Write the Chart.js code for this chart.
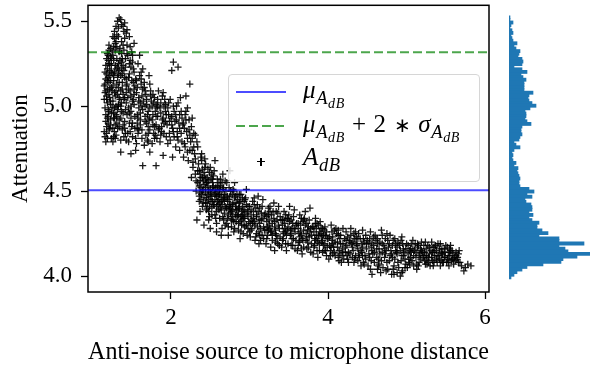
<!DOCTYPE html>
<html>
<head>
<meta charset="utf-8">
<script src="https://cdn.jsdelivr.net/npm/chart.js@4.4.1/dist/chart.umd.min.js"></script>
<style>
  body { margin: 0; background: #fff; }
  #wrap { position: relative; width: 590px; height: 367px; overflow: hidden; }
  #mainChart { position: absolute; left: 0; top: 0; }
  #histChart { position: absolute; left: 490px; top: 0; }
  .legend {
    position: absolute; left: 228px; top: 74px; width: 250px; height: 106px;
    border: 1px solid #d6d6d6; border-radius: 4px; background: rgba(255,255,255,0.85);
    font-family: 'Liberation Serif', serif; font-size: 25px; color: #000; letter-spacing: 0.6px;
  }
  .legend .txt { position: absolute; left: 74px; line-height: 26px; white-space: nowrap; font-style: italic; }
  .legend .txt .n { font-style: normal; }
  .legend .op { padding: 0 7px; }
  .legend .ast { font-size: 80%; padding: 0 7px; }
  .legend sub { font-size: 74%; vertical-align: -0.3em; line-height: 0; }
  .legend sub sub { font-size: 76%; vertical-align: -0.25em; }
  .legend .sw { position: absolute; left: 7px; width: 50px; height: 2px; }
  .legend .plus-h, .legend .plus-v { position: absolute; background: #000; }
</style>
</head>
<body>
<div id="wrap">
  <canvas id="mainChart" width="500" height="367"></canvas>
  <canvas id="histChart" width="100" height="367"></canvas>
  <div class="legend">
    <div class="sw" style="top:16px;background:rgba(0,0,255,0.7)"></div>
    <div class="txt" style="top:2px">μ<sub>A<sub>dB</sub></sub></div>
    <div class="sw" style="top:50px;background:repeating-linear-gradient(to right, rgba(0,128,0,0.7) 0 9px, transparent 9px 13px)"></div>
    <div class="txt" style="top:36px">μ<sub>A<sub>dB</sub></sub><span class="n op">+</span><span class="n">2</span><span class="n ast">∗</span>σ<sub>A<sub>dB</sub></sub></div>
    <div class="plus-h" style="left:28px;top:86px;width:8px;height:1.4px"></div>
    <div class="plus-v" style="left:31.3px;top:83px;width:1.4px;height:8px"></div>
    <div class="txt" style="top:69px">A<sub>dB</sub></div>
  </div>
</div>
<script>
// axis ticks
const xTicks = [2, 4, 6];
const yTicks = [4.0, 4.5, 5.0, 5.5];

// reference lines
const meanAtt = 4.505;
const upperAtt = 5.317;

const nearCluster = [
  [1.16,4.82],[1.18,4.88],[1.17,4.95],[1.19,5.02],[1.16,5.08],[1.21,5.14],[1.18,5.19],[1.22,5.25],[1.20,5.30],[1.23,5.34],
  [1.24,4.81],[1.21,4.86],[1.23,4.92],[1.20,4.98],[1.22,5.05],[1.24,5.11],[1.17,5.16],[1.19,5.22],[1.24,5.28],[1.21,5.33],
  [1.18,4.84],[1.20,4.90],[1.16,4.99],[1.23,5.01],[1.19,5.10],[1.15,5.12],[1.22,5.18],[1.17,5.24],[1.20,5.27],[1.24,5.20],
  [1.22,4.87],[1.17,4.91],[1.24,4.96],[1.18,5.04],[1.21,5.07],[1.23,5.15],[1.16,5.20],[1.19,5.31],[1.22,5.10],[1.20,4.94],
  [1.26,4.79],[1.28,4.85],[1.31,4.90],[1.27,4.96],[1.33,5.01],[1.29,5.06],[1.26,5.12],[1.32,5.17],[1.30,5.22],[1.27,5.27],
  [1.34,5.32],[1.29,5.37],[1.31,5.42],[1.33,5.46],[1.28,5.40],[1.30,4.83],[1.34,4.88],[1.27,4.93],[1.32,4.98],[1.26,5.03],
  [1.30,5.09],[1.34,5.14],[1.28,5.20],[1.33,5.25],[1.26,5.30],[1.31,5.35],[1.29,4.81],[1.32,4.87],[1.28,4.99],[1.34,5.05],
  [1.27,5.15],[1.31,5.28],[1.29,5.33],[1.33,5.11],[1.30,4.95],[1.26,5.19],[1.34,4.92],[1.28,5.08],[1.32,5.23],[1.30,5.38],
  [1.36,4.80],[1.38,4.86],[1.41,4.91],[1.37,4.97],[1.43,5.02],[1.39,5.07],[1.44,5.13],[1.36,5.18],[1.42,5.23],[1.38,5.28],
  [1.40,5.33],[1.37,5.38],[1.43,5.43],[1.39,5.47],[1.36,5.51],[1.41,5.49],[1.44,5.45],[1.35,5.34],[1.42,4.84],[1.39,4.89],
  [1.44,4.95],[1.36,5.00],[1.41,5.05],[1.38,5.10],[1.43,5.16],[1.40,5.21],[1.37,5.26],[1.44,5.31],[1.39,5.36],[1.41,5.40],
  [1.36,4.93],[1.43,5.08],[1.38,5.14],[1.40,4.82],[1.42,4.98],[1.37,5.22],
  [1.46,4.79],[1.48,4.85],[1.51,4.90],[1.47,4.96],[1.53,5.01],[1.49,5.06],[1.54,5.12],[1.46,5.17],[1.52,5.22],[1.48,5.27],
  [1.50,5.32],[1.53,5.37],[1.47,5.41],[1.51,4.82],[1.54,4.87],[1.49,4.93],[1.46,4.99],[1.52,5.04],[1.48,5.09],[1.50,5.15],
  [1.53,5.20],[1.47,5.25],[1.51,5.30],[1.49,5.00],[1.54,4.94],[1.46,5.10],[1.50,4.88],[1.52,5.14],[1.48,5.35],[1.53,5.07],
  [1.56,4.78],[1.58,4.84],[1.61,4.89],[1.57,4.95],[1.63,5.00],[1.59,5.05],[1.64,5.10],[1.56,5.15],[1.62,5.20],[1.58,5.25],
  [1.60,5.30],[1.63,4.81],[1.57,4.87],[1.61,4.92],[1.64,4.98],[1.59,5.03],[1.56,5.08],[1.62,5.13],[1.60,5.18],[1.58,4.93],
  [1.64,5.22],[1.61,5.02],[1.57,5.11],[1.63,4.86],[1.59,4.99],[1.62,5.16],
  [1.66,4.77],[1.68,4.83],[1.71,4.88],[1.67,4.94],[1.73,4.99],[1.69,5.04],[1.74,5.09],[1.66,5.14],[1.72,5.18],[1.70,4.80],
  [1.73,4.86],[1.67,4.91],[1.71,4.97],[1.69,5.01],[1.74,5.06],[1.66,5.11],[1.72,4.92],[1.68,5.07],[1.70,4.95],[1.73,5.13],
  [1.67,5.00],[1.71,4.84],
  [1.76,4.78],[1.78,4.84],[1.81,4.89],[1.77,4.95],[1.83,5.00],[1.79,5.05],[1.84,5.09],[1.76,4.92],[1.82,4.81],[1.80,4.97],
  [1.78,5.02],[1.84,4.86],[1.77,5.07],[1.81,4.94],[1.83,5.04],[1.79,4.88],[1.82,4.99],[1.76,5.00],[1.80,4.83],
  [1.86,4.79],[1.88,4.85],[1.91,4.90],[1.87,4.96],[1.93,5.01],[1.89,5.06],[1.94,4.82],[1.90,4.93],[1.86,4.99],[1.92,5.04],
  [1.88,4.88],[1.94,4.95],[1.90,5.08],[1.87,4.83],[1.93,4.91],[1.91,5.00],
  [1.96,4.78],[1.98,4.84],[2.01,4.89],[1.97,4.95],[2.03,5.00],[1.99,5.04],[2.04,4.82],[2.00,4.93],[1.96,4.99],[2.02,4.87],
  [1.98,4.91],[2.04,4.97],[2.01,5.21],[2.03,5.26],
  [2.06,4.76],[2.08,4.82],[2.11,4.87],[2.07,4.92],[2.13,4.97],[2.09,5.02],[2.14,4.79],[2.10,4.90],[2.06,4.95],[2.12,5.05],
  [2.08,4.85],[2.14,4.93],[2.11,4.74],[2.09,5.23],
  [2.16,4.70],[2.18,4.76],[2.21,4.81],[2.17,4.87],[2.23,4.92],[2.19,4.97],[2.24,4.74],[2.20,4.85],[2.16,4.90],[2.22,4.68],
  [2.18,4.95],[2.24,4.83],[2.24,5.13],[2.21,4.99],
  [1.49,4.72],[1.64,4.65],[1.81,4.65],[1.36,4.73],[1.55,4.74],[1.73,4.73],[1.90,4.71],[2.02,4.70],
  [1.15,4.85],[1.17,4.79],[1.19,4.93],[1.21,4.97],[1.23,5.03],[1.18,5.06],[1.16,5.13],[1.20,5.17],[1.22,5.21],[1.24,5.24],
  [1.18,5.28],[1.21,5.36],[1.25,5.32],[1.26,5.41],[1.28,5.44],[1.30,5.47],[1.32,5.50],[1.34,5.52],[1.37,5.48],[1.40,5.44],
  [1.27,4.82],[1.29,4.89],[1.31,4.94],[1.33,5.00],[1.35,5.04],[1.25,5.09],[1.27,5.18],[1.29,5.24],[1.31,5.13],[1.33,5.19],
  [1.35,5.27],[1.37,5.31],[1.39,5.24],[1.41,5.17],[1.43,5.12],[1.45,5.05],[1.37,5.02],[1.39,4.96],[1.41,4.87],[1.43,4.80],
  [1.45,4.84],[1.47,4.90],[1.49,4.97],[1.51,5.03],[1.53,5.10],[1.55,5.16],[1.47,5.19],[1.49,5.23],[1.51,5.26],[1.45,5.30],
  [1.55,4.81],[1.57,4.90],[1.59,4.86],[1.61,4.96],[1.63,5.06],[1.65,5.03],[1.67,5.09],[1.69,4.90],[1.71,4.79],[1.73,4.93],
  [1.75,5.03],[1.77,4.89],[1.79,4.81],[1.81,5.01],[1.83,4.94],[1.85,4.87],[1.87,5.02],[1.89,4.92],[1.91,4.84],[1.93,4.97],
  [1.95,4.89],[1.97,5.02],[1.99,4.80],[2.01,4.94],[2.03,4.85],[2.05,4.91],[2.07,5.00],[2.09,4.80],[2.11,4.95],[2.13,4.84],
  [2.15,4.89],[2.17,4.78],[2.19,4.92],[2.21,4.73],[2.23,4.86],[2.25,4.79],[2.19,5.06],[2.27,4.93],[2.29,4.76],[2.31,4.83],
  [1.26,4.87],[1.28,4.93],[1.30,5.00],[1.32,5.07],[1.34,5.21],[1.36,5.09],[1.38,5.19],[1.40,5.04],[1.42,5.28],[1.44,5.36],
  [1.19,4.81],[1.23,4.89],[1.17,5.09],[1.21,5.25],[1.19,5.15],[1.23,5.29],[1.15,5.04],[1.25,4.99],[1.27,5.35],[1.33,5.41]
];

const dropZone = [
  [2.26,4.58],[2.28,4.64],[2.31,4.69],[2.27,4.74],[2.33,4.79],[2.29,4.84],[2.34,4.62],[2.30,4.72],[2.26,4.88],[2.32,4.56],
  [2.28,4.67],[2.34,4.76],[2.31,4.60],[2.27,4.81],
  [2.36,4.47],[2.38,4.52],[2.41,4.56],[2.37,4.60],[2.43,4.64],[2.39,4.68],[2.44,4.49],[2.40,4.58],[2.36,4.62],[2.42,4.54],
  [2.38,4.45],[2.44,4.66],[2.41,4.51],[2.37,4.56],[2.43,4.59],[2.39,4.48],[2.45,4.55],[2.36,4.53],[2.40,4.63],[2.42,4.46],
  [2.38,4.70],[2.44,4.43],[2.40,4.41],[2.37,4.38],
  [2.46,4.40],[2.48,4.45],[2.51,4.49],[2.47,4.53],[2.53,4.57],[2.49,4.61],[2.54,4.42],[2.50,4.51],[2.46,4.55],[2.52,4.47],
  [2.48,4.38],[2.54,4.59],[2.51,4.44],[2.47,4.48],[2.53,4.52],[2.49,4.41],[2.55,4.50],[2.46,4.58],[2.50,4.64],[2.52,4.36],
  [2.56,4.68],[2.48,4.33],[2.53,4.55],[2.45,4.46],
  [2.56,4.36],[2.58,4.41],[2.61,4.45],[2.57,4.49],[2.63,4.53],[2.59,4.57],[2.64,4.39],[2.60,4.47],[2.66,4.51],[2.62,4.43],
  [2.68,4.37],[2.65,4.55],[2.67,4.46],[2.69,4.41],[2.57,4.52],[2.62,4.34],[2.66,4.60],[2.59,4.44],[2.64,4.48],[2.70,4.50],
  [2.61,4.55],[2.68,4.44],[2.56,4.45],[2.63,4.40],[2.67,4.33],[2.58,4.31],[2.65,4.28],[2.60,4.50],[2.69,4.56],[2.55,4.42],
  [2.71,4.31],[2.73,4.36],[2.76,4.40],[2.72,4.44],[2.78,4.48],[2.74,4.52],[2.79,4.33],[2.75,4.42],[2.81,4.46],[2.77,4.38],
  [2.83,4.32],[2.80,4.50],[2.82,4.41],[2.84,4.36],[2.72,4.47],[2.77,4.29],[2.81,4.55],[2.74,4.39],[2.79,4.43],[2.85,4.45],
  [2.76,4.50],[2.83,4.39],[2.71,4.40],[2.78,4.35],[2.75,4.62],[2.80,4.26],[2.73,4.24],[2.84,4.48],
  [2.86,4.27],[2.88,4.32],[2.91,4.36],[2.87,4.40],[2.93,4.44],[2.89,4.48],[2.94,4.29],[2.90,4.38],[2.96,4.42],[2.92,4.34],
  [2.98,4.28],[2.95,4.46],[2.97,4.37],[2.99,4.32],[2.87,4.43],[2.92,4.25],[2.96,4.51],[2.89,4.35],[2.94,4.39],[3.00,4.41],
  [2.91,4.46],[2.98,4.35],[2.86,4.36],[2.93,4.30],[2.88,4.22],
  [2.32,4.50],[2.34,4.55],[2.36,4.44],[2.38,4.58],[2.40,4.50],[2.42,4.61],[2.44,4.52],[2.46,4.43],[2.48,4.56],[2.50,4.47],
  [2.52,4.40],[2.54,4.53],[2.56,4.48],[2.58,4.38],[2.60,4.42],[2.62,4.51],[2.64,4.44],[2.66,4.35],[2.68,4.48],[2.70,4.40],
  [2.72,4.34],[2.74,4.45],[2.76,4.37],[2.78,4.42],[2.80,4.32],[2.82,4.47],[2.84,4.39],[2.86,4.31],[2.88,4.44],[2.90,4.33],
  [2.92,4.39],[2.94,4.45],[2.96,4.30],[2.98,4.41],[3.00,4.26],[2.35,4.66],[2.39,4.72],[2.43,4.69],[2.47,4.63],[2.51,4.57],
  [2.55,4.62],[2.59,4.53],[2.63,4.57],[2.67,4.52],[2.71,4.55],[2.75,4.47],[2.79,4.51],[2.83,4.43],[2.87,4.48],[2.91,4.41],
  [2.37,4.49],[2.41,4.43],[2.45,4.39],[2.49,4.35],[2.53,4.44],[2.57,4.34],[2.61,4.39],[2.65,4.42],[2.69,4.30],[2.73,4.29],
  [2.77,4.33],[2.81,4.28],[2.85,4.35],[2.89,4.26],[2.93,4.36],[2.97,4.24],[2.44,4.57],[2.48,4.50],[2.52,4.60],[2.58,4.47],
  [2.62,4.48],[2.66,4.45],[2.70,4.46],[2.74,4.41],[2.78,4.39],[2.82,4.36],[2.86,4.40],[2.90,4.30],[2.94,4.34],[2.98,4.38],
  [2.33,4.33],[2.42,4.30],[2.50,4.28],[2.58,4.26],[2.64,4.24]
];

const farBand = [
  [3.01,4.23],[3.03,4.28],[3.06,4.32],[3.02,4.36],[3.08,4.40],[3.04,4.44],[3.09,4.25],[3.05,4.34],[3.11,4.38],[3.07,4.30],
  [3.13,4.24],[3.10,4.42],[3.12,4.33],[3.14,4.28],[3.02,4.39],[3.07,4.21],[3.11,4.47],[3.04,4.31],[3.09,4.35],[3.15,4.37],
  [3.06,4.42],[3.13,4.31],[3.17,4.34],[3.19,4.27],[3.16,4.41],[3.18,4.22],[3.20,4.37],[3.17,4.45],[3.01,4.31],[3.12,4.19],
  [3.21,4.19],[3.23,4.24],[3.26,4.28],[3.22,4.32],[3.28,4.36],[3.24,4.40],[3.29,4.21],[3.25,4.30],[3.31,4.34],[3.27,4.26],
  [3.33,4.20],[3.30,4.38],[3.32,4.29],[3.34,4.24],[3.22,4.35],[3.27,4.17],[3.31,4.43],[3.24,4.27],[3.29,4.31],[3.35,4.33],
  [3.26,4.38],[3.33,4.27],[3.37,4.30],[3.39,4.23],[3.36,4.37],[3.38,4.18],[3.40,4.33],[3.37,4.41],[3.21,4.27],[3.32,4.15],
  [3.41,4.17],[3.43,4.22],[3.46,4.26],[3.42,4.30],[3.48,4.34],[3.44,4.38],[3.49,4.19],[3.45,4.28],[3.51,4.32],[3.47,4.24],
  [3.53,4.18],[3.50,4.36],[3.52,4.27],[3.54,4.22],[3.42,4.33],[3.47,4.15],[3.51,4.41],[3.44,4.25],[3.49,4.29],[3.55,4.31],
  [3.46,4.36],[3.53,4.25],[3.57,4.28],[3.59,4.21],[3.56,4.35],[3.58,4.16],[3.60,4.31],[3.57,4.39],
  [3.61,4.15],[3.63,4.20],[3.66,4.24],[3.62,4.28],[3.68,4.32],[3.64,4.36],[3.69,4.17],[3.65,4.26],[3.71,4.30],[3.67,4.22],
  [3.73,4.16],[3.70,4.34],[3.72,4.25],[3.74,4.20],[3.62,4.31],[3.67,4.13],[3.71,4.38],[3.64,4.23],[3.69,4.27],[3.75,4.29],
  [3.66,4.34],[3.73,4.23],[3.77,4.26],[3.79,4.19],[3.76,4.33],[3.78,4.14],[3.80,4.29],[3.77,4.40],
  [3.81,4.13],[3.83,4.18],[3.86,4.22],[3.82,4.26],[3.88,4.30],[3.84,4.34],[3.89,4.15],[3.85,4.24],[3.91,4.28],[3.87,4.20],
  [3.93,4.14],[3.90,4.32],[3.92,4.23],[3.94,4.18],[3.82,4.29],[3.87,4.11],[3.91,4.25],[3.84,4.21],[3.89,4.19],[3.95,4.27],
  [3.86,4.31],[3.93,4.21],[3.97,4.24],[3.99,4.17],[3.96,4.29],[3.98,4.12],[4.00,4.22],[3.97,4.15],
  [4.01,4.10],[4.03,4.15],[4.06,4.19],[4.02,4.23],[4.08,4.27],[4.04,4.30],[4.09,4.12],[4.05,4.21],[4.11,4.25],[4.07,4.17],
  [4.13,4.11],[4.10,4.28],[4.12,4.20],[4.14,4.15],[4.16,4.24],[4.17,4.08],[4.19,4.19],[4.15,4.13],[4.21,4.22],[4.18,4.16],
  [4.23,4.26],[4.20,4.10],[4.22,4.14],[4.24,4.18],[4.25,4.23],[4.06,4.13],[4.13,4.24],[4.19,4.28],
  [4.26,4.08],[4.28,4.13],[4.31,4.17],[4.27,4.21],[4.33,4.25],[4.29,4.28],[4.34,4.10],[4.30,4.19],[4.36,4.23],[4.32,4.15],
  [4.38,4.09],[4.35,4.26],[4.37,4.18],[4.39,4.13],[4.41,4.22],[4.42,4.06],[4.44,4.17],[4.40,4.11],[4.46,4.20],[4.43,4.14],
  [4.48,4.24],[4.45,4.08],[4.47,4.12],[4.49,4.16],[4.50,4.21],[4.31,4.11],[4.38,4.22],[4.44,4.27],
  [4.51,4.06],[4.53,4.11],[4.56,4.15],[4.52,4.19],[4.58,4.23],[4.54,4.26],[4.59,4.08],[4.55,4.17],[4.61,4.21],[4.57,4.13],
  [4.63,4.04],[4.60,4.24],[4.62,4.16],[4.64,4.10],[4.66,4.20],[4.67,4.02],[4.69,4.14],[4.65,4.07],[4.71,4.18],[4.68,4.27],
  [4.73,4.22],[4.70,4.05],[4.72,4.11],[4.74,4.15],[4.75,4.25],[4.56,4.01],[4.63,4.19],[4.69,4.24],
  [4.76,4.04],[4.78,4.09],[4.81,4.13],[4.77,4.17],[4.83,4.21],[4.79,4.24],[4.84,4.06],[4.80,4.15],[4.86,4.19],[4.82,4.11],
  [4.88,4.02],[4.85,4.22],[4.87,4.14],[4.89,4.08],[4.91,4.18],[4.92,4.00],[4.94,4.12],[4.90,4.05],[4.96,4.16],[4.93,4.21],
  [4.98,4.10],[4.95,4.03],[4.97,4.14],[4.99,4.07],[5.00,4.19],[4.81,4.01],[4.88,4.17],[4.94,4.23],
  [5.01,4.05],[5.03,4.10],[5.06,4.14],[5.02,4.18],[5.08,4.21],[5.04,4.07],[5.09,4.12],[5.05,4.16],[5.11,4.19],[5.07,4.09],
  [5.13,4.04],[5.10,4.15],[5.12,4.11],[5.14,4.17],[5.16,4.08],[5.17,4.13],[5.19,4.20],[5.15,4.06],[5.21,4.11],[5.18,4.16],
  [5.23,4.09],[5.20,4.14],[5.22,4.18],[5.24,4.07],[5.25,4.12],
  [5.26,4.07],[5.28,4.11],[5.31,4.15],[5.27,4.18],[5.33,4.09],[5.29,4.13],[5.34,4.17],[5.30,4.06],[5.36,4.12],[5.32,4.20],
  [5.38,4.10],[5.35,4.14],[5.37,4.18],[5.39,4.08],[5.41,4.12],[5.42,4.16],[5.44,4.09],[5.40,4.19],[5.46,4.13],[5.43,4.06],
  [5.48,4.11],[5.45,4.16],[5.47,4.08],[5.49,4.14],[5.50,4.18],
  [5.51,4.08],[5.53,4.12],[5.56,4.15],[5.52,4.17],[5.58,4.10],[5.54,4.06],[5.59,4.13],[5.55,4.16],[5.61,4.11],[5.57,4.09],
  [5.63,4.14],[5.60,4.07],[5.64,4.10],[5.66,4.13],[5.68,4.08],[5.70,4.06],[5.75,4.05],[5.78,4.07],[5.82,4.06],[5.73,4.03],
  [3.02,4.27],[3.05,4.38],[3.08,4.23],[3.03,4.33],[3.10,4.29],[3.06,4.46],[3.09,4.36],
  [3.12,4.26],[3.15,4.33],[3.18,4.29],[3.13,4.40],[3.16,4.24],[3.19,4.36],[3.14,4.21],
  [3.22,4.22],[3.25,4.33],[3.28,4.26],[3.23,4.29],[3.26,4.41],[3.29,4.24],[3.24,4.36],
  [3.32,4.32],[3.35,4.22],[3.38,4.28],[3.33,4.25],[3.36,4.19],[3.39,4.35],[3.34,4.38],
  [3.42,4.21],[3.45,4.31],[3.48,4.27],[3.43,4.26],[3.46,4.19],[3.49,4.34],[3.44,4.33],
  [3.52,4.24],[3.55,4.18],[3.58,4.26],[3.53,4.33],[3.56,4.22],[3.59,4.30],[3.54,4.28],
  [3.62,4.18],[3.65,4.30],[3.68,4.21],[3.63,4.25],[3.66,4.16],[3.69,4.33],[3.64,4.20],
  [3.72,4.21],[3.75,4.17],[3.78,4.28],[3.73,4.31],[3.76,4.23],[3.79,4.24],[3.74,4.27],
  [3.82,4.17],[3.85,4.28],[3.88,4.24],[3.83,4.22],[3.86,4.15],[3.89,4.26],[3.84,4.31],
  [3.92,4.20],[3.95,4.15],[3.98,4.26],[3.93,4.28],[3.96,4.19],[3.99,4.22],[3.94,4.24],
  [4.02,4.18],[4.05,4.26],[4.08,4.14],[4.03,4.12],[4.06,4.23],[4.09,4.20],[4.04,4.17],
  [4.12,4.17],[4.15,4.22],[4.18,4.12],[4.13,4.27],[4.16,4.19],[4.19,4.14],[4.14,4.09],
  [4.22,4.17],[4.25,4.10],[4.28,4.20],[4.23,4.21],[4.26,4.14],[4.29,4.24],[4.24,4.12],
  [4.32,4.20],[4.35,4.12],[4.38,4.16],[4.33,4.08],[4.36,4.19],[4.39,4.25],[4.34,4.22],
  [4.42,4.15],[4.45,4.22],[4.48,4.10],[4.43,4.19],[4.46,4.07],[4.49,4.19],[4.44,4.12],
  [4.52,4.13],[4.55,4.09],[4.58,4.18],[4.53,4.22],[4.56,4.20],[4.59,4.14],[4.54,4.04],
  [4.62,4.11],[4.65,4.16],[4.68,4.09],[4.63,4.22],[4.66,4.13],[4.69,4.19],[4.64,4.06],
  [4.72,4.16],[4.75,4.08],[4.78,4.19],[4.73,4.13],[4.76,4.21],[4.79,4.12],[4.74,4.03],
  [4.82,4.18],[4.85,4.10],[4.88,4.13],[4.83,4.04],[4.86,4.15],[4.89,4.20],[4.84,4.01],
  [4.92,4.15],[4.95,4.19],[4.98,4.05],[4.93,4.09],[4.96,4.12],[4.99,4.16],[4.94,4.02],
  [5.02,4.13],[5.05,4.11],[5.08,4.16],[5.03,4.08],[5.06,4.19],[5.09,4.06],[5.04,4.15],
  [5.12,4.14],[5.15,4.18],[5.18,4.10],[5.13,4.07],[5.16,4.12],[5.19,4.15],[5.14,4.19],
  [5.22,4.12],[5.25,4.16],[5.28,4.08],[5.23,4.14],[5.26,4.10],[5.29,4.17],[5.24,4.20],
  [5.32,4.11],[5.35,4.08],[5.38,4.15],[5.33,4.14],[5.36,4.17],[5.39,4.12],[5.34,4.06],
  [5.42,4.10],[5.45,4.13],[5.48,4.16],[5.43,4.19],[5.46,4.08],[5.49,4.11],[5.44,4.14],
  [5.52,4.10],[5.55,4.12],[5.58,4.15],[5.53,4.08],[5.56,4.18],[5.59,4.10],[5.54,4.14],
  [5.62,4.09],[5.65,4.11],[5.67,4.15],[5.63,4.12],[5.66,4.08]
];

// histogram of attenuation, bins from top (5.516) downwards
const histTop = 5.516;
const histStep = 0.01524;
const histCounts = [
  1, 1, 4, 2, 1, 3, 4, 2, 3, 4,
  8, 5, 7, 11, 10, 9, 13, 14, 13, 5,
  13, 18, 12, 14, 17, 15, 15, 15, 15, 24,
  20, 19, 20, 23, 27, 21, 16, 17, 17, 16,
  18, 22, 13, 12, 12, 13, 11, 10, 5, 7,
  11, 5, 3, 4, 3, 4, 7, 5, 9, 8,
  9, 10, 11, 10, 10, 11, 20, 25, 18, 23,
  16, 17, 22, 23, 23, 20, 24, 20, 23, 30,
  28, 28, 33, 39, 30, 50, 50, 75, 50, 56,
  59, 81, 68, 54, 52, 34, 18, 13, 8, 5,
  2
];

const FONT = "'Liberation Serif', 'DejaVu Serif', serif";
const xMin = 0.943, xMax = 6.05, yMin = 3.906, yMax = 5.594;

const frame = {
  id: 'frame',
  afterDatasetsDraw(chart) {
    const a = chart.chartArea, ctx = chart.ctx;
    ctx.save();
    ctx.strokeStyle = '#000';
    ctx.lineWidth = 1.5;
    ctx.strokeRect(a.left, a.top, a.right - a.left, a.bottom - a.top);
    ctx.restore();
  }
};

const points = nearCluster.concat(dropZone, farBand).map(p => ({ x: p[0], y: p[1] }));

new Chart(document.getElementById('mainChart'), {
  type: 'scatter',
  data: {
    datasets: [
      {
        label: 'mean',
        data: [{ x: xMin, y: meanAtt }, { x: xMax, y: meanAtt }],
        showLine: true, pointRadius: 0, borderColor: 'rgba(0,0,255,0.7)', borderWidth: 2
      },
      {
        label: 'mean + 2 sigma',
        data: [{ x: xMin, y: upperAtt }, { x: xMax, y: upperAtt }],
        showLine: true, pointRadius: 0, borderColor: 'rgba(0,128,0,0.7)', borderWidth: 2, borderDash: [9, 4]
      },
      {
        label: 'AdB',
        data: points,
        pointStyle: 'cross', pointRadius: 3.5, borderWidth: 1.3,
        borderColor: 'rgba(0,0,0,0.9)', backgroundColor: 'rgba(0,0,0,0.9)'
      }
    ]
  },
  options: {
    responsive: false,
    animation: false,
    layout: { padding: { top: 4, right: 11, left: 0, bottom: 0 } },
    plugins: { legend: { display: false }, tooltip: { enabled: false } },
    scales: {
      x: {
        type: 'linear', min: xMin, max: xMax,
        afterBuildTicks: s => { s.ticks = xTicks.map(v => ({ value: v })); },
        afterFit: s => { s.height = 75; s.paddingLeft = 0; s.paddingRight = 0; },
        grid: { drawOnChartArea: false, drawTicks: true, tickLength: 7, tickWidth: 1.3, tickColor: '#000' },
        border: { display: false },
        ticks: { color: '#000', font: { family: FONT, size: 23 }, padding: 5, maxRotation: 0, callback: v => String(v) },
        title: { display: true, text: 'Anti-noise source to microphone distance', color: '#000',
                 font: { family: FONT, size: 25 }, padding: { top: 0, bottom: 0 } }
      },
      y: {
        type: 'linear', min: yMin, max: yMax,
        afterBuildTicks: s => { s.ticks = yTicks.map(v => ({ value: v })); },
        afterFit: s => { s.width = 88; s.paddingTop = 0; s.paddingBottom = 0; },
        grid: { drawOnChartArea: false, drawTicks: true, tickLength: 7, tickWidth: 1.3, tickColor: '#000' },
        border: { display: false },
        ticks: { color: '#000', font: { family: FONT, size: 23 }, padding: 9, callback: v => v.toFixed(1) },
        title: { display: true, text: 'Attenuation', color: '#000',
                 font: { family: FONT, size: 23 }, padding: { top: 7, bottom: 0 } }
      }
    }
  },
  plugins: [frame]
});

new Chart(document.getElementById('histChart'), {
  type: 'bar',
  data: {
    datasets: [{
      data: histCounts.map((c, i) => ({ x: c, y: histTop - i * histStep })),
      backgroundColor: '#1f77b4', borderWidth: 0, barThickness: 3.2
    }]
  },
  options: {
    indexAxis: 'y',
    responsive: false,
    animation: false,
    layout: { padding: { top: 4, right: 0, left: 19, bottom: 75 } },
    plugins: { legend: { display: false }, tooltip: { enabled: false } },
    scales: {
      x: { type: 'linear', min: 0, max: 81, display: false },
      y: { type: 'linear', min: yMin, max: yMax, offset: false, display: false }
    }
  }
});
</script>
</body>
</html>
